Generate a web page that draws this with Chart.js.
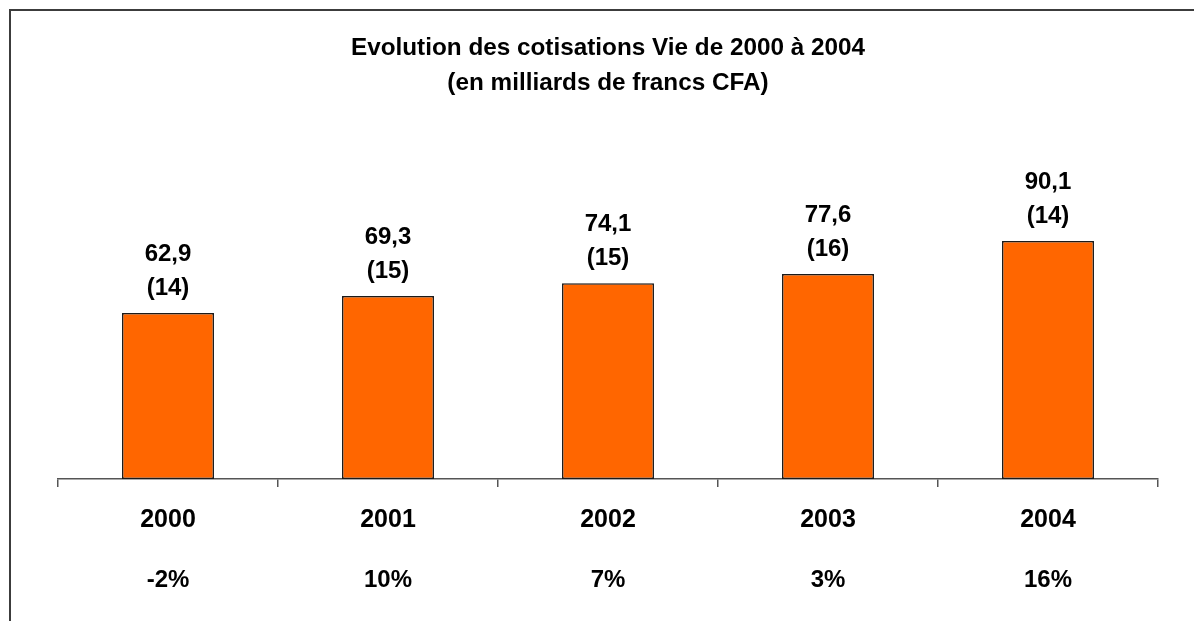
<!DOCTYPE html>
<html lang="fr">
<head>
  <meta charset="UTF-8" />
  <title>Evolution des cotisations Vie</title>
  <script src="https://cdn.jsdelivr.net/npm/chart.js"></script>
  <style>
    html, body { margin: 0; padding: 0; background: #fff; }
    .chart-container { width: 1194px; height: 621px; }
  </style>
</head>
<body>
  <div class="chart-container">
    <canvas id="cotisationsChart"></canvas>
  </div>

  <script>
    // données
    const years = ['2000', '2001', '2002', '2003', '2004'];
    const cotisations = [62.9, 69.3, 74.1, 77.6, 90.1];
    const nbSocietes = [14, 15, 15, 16, 14];
    const croissance = ['-2%', '10%', '7%', '3%', '16%'];
    const titre = ['Evolution des cotisations Vie de 2000 à 2004', '(en milliards de francs CFA)'];

    const FONT = '"Liberation Sans", Arial, sans-serif';

    function formatFR(v) {
      return v.toFixed(1).replace('.', ',');
    }

    // cadre (bord haut et gauche)
    const framePlugin = {
      id: 'frame',
      beforeDraw(chart) {
        const ctx = chart.ctx;
        ctx.save();
        ctx.strokeStyle = '#3c3c3c';
        ctx.lineWidth = 2;
        ctx.beginPath();
        ctx.moveTo(10, chart.height);
        ctx.lineTo(10, 10);
        ctx.lineTo(chart.width, 10);
        ctx.stroke();
        ctx.restore();
      }
    };

    // étiquettes au-dessus des barres + ligne des taux de croissance
    const labelsPlugin = {
      id: 'barLabels',
      afterDraw(chart) {
        const ctx = chart.ctx;
        const meta = chart.getDatasetMeta(0);
        const xScale = chart.scales.x;
        ctx.save();
        ctx.fillStyle = '#000';
        ctx.textAlign = 'center';
        ctx.textBaseline = 'middle';
        ctx.font = 'bold 24px ' + FONT;
        meta.data.forEach((bar, i) => {
          ctx.fillText(formatFR(cotisations[i]), bar.x, bar.y - 59);
          ctx.fillText('(' + nbSocietes[i] + ')', bar.x, bar.y - 25);
        });
        croissance.forEach((txt, i) => {
          ctx.fillText(txt, xScale.getPixelForValue(i), 580);
        });
        ctx.restore();
      }
    };

    const ctx = document.getElementById('cotisationsChart').getContext('2d');
    new Chart(ctx, {
      type: 'bar',
      data: {
        labels: years,
        datasets: [{
          label: 'Cotisations Vie',
          data: cotisations,
          backgroundColor: '#ff6600',
          borderColor: '#1a1a1a',
          borderWidth: 1.5,
          borderSkipped: false,
          categoryPercentage: 1,
          barPercentage: 0.418
        }]
      },
      options: {
        responsive: true,
        maintainAspectRatio: false,
        animation: false,
        layout: { padding: { left: 58, right: 36, top: 0, bottom: 68 } },
        plugins: {
          legend: { display: false },
          tooltip: { enabled: false },
          title: {
            display: true,
            text: titre,
            color: '#000',
            font: { family: FONT, size: 24.3, weight: 'bold', lineHeight: 1.44 },
            padding: { top: 31, bottom: 114 }
          }
        },
        scales: {
          x: {
            grid: {
              display: true,
              drawOnChartArea: false,
              drawTicks: true,
              tickLength: 8,
              color: '#555',
              lineWidth: 1.5
            },
            border: { display: true, color: '#555', width: 1.5 },
            ticks: {
              color: '#000',
              padding: 18,
              font: { family: FONT, size: 25, weight: 'bold' }
            }
          },
          y: {
            display: false,
            min: 0,
            max: 100
          }
        }
      },
      plugins: [framePlugin, labelsPlugin]
    });
  </script>
</body>
</html>
